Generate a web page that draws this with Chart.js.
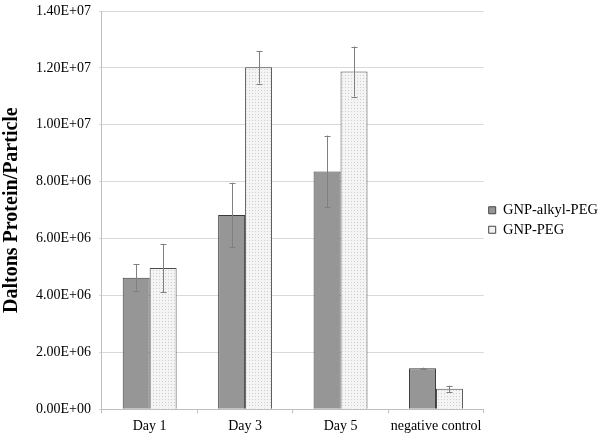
<!DOCTYPE html>
<html><head><meta charset="utf-8">
<script src="https://cdn.jsdelivr.net/npm/chart.js@4/dist/chart.umd.min.js"></script>
<style>html,body{margin:0;padding:0;background:#fff}#wrap{width:602px;height:439px}</style>
</head><body><div id="wrap"><canvas id="c" width="602" height="439"></canvas></div>
<script>
const categories = ["Day 1", "Day 3", "Day 5", "negative control"];
const seriesNames = ["GNP-alkyl-PEG", "GNP-PEG"];
const alkylValues = [4.62e6, 6.83e6, 8.36e6, 1.44e6];
const alkylErrors = [0.47e6, 1.13e6, 1.26e6, 0.02e6];
const pegValues = [4.96e6, 1.202e7, 1.187e7, 0.72e6];
const pegErrors = [0.85e6, 0.57e6, 0.88e6, 0.11e6];
const yTicksMax = 1.4e7;
const yTicksStep = 2e6;

function dotPattern() {
  const p = document.createElement('canvas');
  p.width = 3; p.height = 3;
  const g = p.getContext('2d');
  g.fillStyle = '#f4f4f4'; g.fillRect(0, 0, 3, 3);
  g.fillStyle = '#cfcfcf'; g.fillRect(0, 0, 1, 1);
  return g.createPattern(p, 'repeat');
}
const ctx = document.getElementById('c').getContext('2d');
const pat = dotPattern();

const errorBars = {
  id: 'errorBars',
  afterDatasetsDraw(chart) {
    const c = chart.ctx, ys = chart.scales.y;
    chart.data.datasets.forEach((ds, di) => {
      const meta = chart.getDatasetMeta(di);
      meta.data.forEach((bar, i) => {
        const v = ds.data[i], e = ds.errors[i];
        const yt = ys.getPixelForValue(v + e), yb = ys.getPixelForValue(v - e);
        c.save();
        c.strokeStyle = '#808080'; c.lineWidth = 1;
        c.beginPath();
        const x = Math.round(bar.x) + 0.5;
        c.moveTo(x, yt); c.lineTo(x, yb);
        c.moveTo(x - 3, Math.round(yt) + 0.5); c.lineTo(x + 3, Math.round(yt) + 0.5);
        c.moveTo(x - 3, Math.round(yb) + 0.5); c.lineTo(x + 3, Math.round(yb) + 0.5);
        c.stroke();
        c.restore();
      });
    });
  }
};

new Chart(ctx, {
  type: 'bar',
  data: {
    labels: categories,
    datasets: [
      { label: seriesNames[0], data: alkylValues, errors: alkylErrors, backgroundColor: '#969696', borderColor: '#3a3a3a', borderWidth: 1, categoryPercentage: 0.565, barPercentage: 1.0 },
      { label: seriesNames[1], data: pegValues, errors: pegErrors, backgroundColor: pat, borderColor: '#4a4a4a', borderWidth: 1, categoryPercentage: 0.565, barPercentage: 1.0 }
    ]
  },
  options: {
    responsive: false,
    animation: false,
    devicePixelRatio: 1,
    layout: { padding: { top: 0, right: -6, left: 0, bottom: -1 } },
    plugins: {
      tooltip: { enabled: false },
      legend: {
        position: 'right',
        align: 'center',
        labels: {
          font: { family: 'Liberation Serif', size: 14.5 },
          color: '#000',
          boxWidth: 7, boxHeight: 7, padding: 5,
          generateLabels(chart) {
            return chart.data.datasets.map((ds, i) => ({
              text: ds.label, fillStyle: i === 0 ? '#969696' : '#f2f2f2',
              strokeStyle: '#444', lineWidth: 1, datasetIndex: i, fontColor: '#000'
            }));
          }
        }
      }
    },
    scales: {
      x: {
        grid: { drawOnChartArea: false, drawTicks: true, tickLength: 4, color: '#bfbfbf', offset: true },
        border: { color: '#bfbfbf' },
        ticks: { font: { family: 'Liberation Serif', size: 14 }, color: '#000', padding: 5, maxRotation: 0, minRotation: 0, autoSkip: false }
      },
      y: {
        min: 0, max: yTicksMax,
        afterFit(s) { s.paddingTop = 11; },
        grid: { color: '#d9d9d9', tickLength: 3 },
        border: { color: '#bfbfbf' },
        ticks: {
          stepSize: yTicksStep,
          font: { family: 'Liberation Serif', size: 14 }, color: '#000', padding: 8,
          callback(v) {
            const s = Number(v).toExponential(2).split('e');
            const exp = parseInt(s[1], 10);
            const sign = exp < 0 ? '-' : '+';
            return s[0] + 'E' + sign + String(Math.abs(exp)).padStart(2, '0');
          }
        },
        title: { display: true, text: 'Daltons Protein/Particle', font: { family: 'Liberation Serif', size: 20, weight: 'bold' }, color: '#000', padding: { top: 0, bottom: 4 } }
      }
    }
  },
  plugins: [errorBars]
});
</script></body></html>
